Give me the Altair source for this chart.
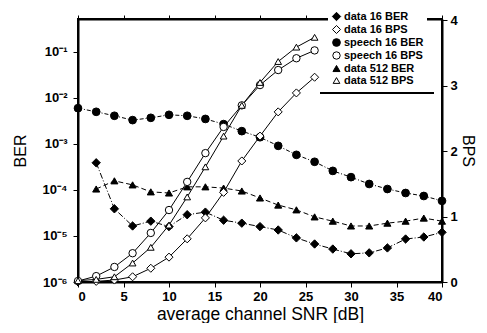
import altair as alt
import pandas as pd

# ---------------- data ----------------
series_order = ["data 16 BER", "data 16 BPS", "speech 16 BER",
                "speech 16 BPS", "data 512 BER", "data 512 BPS"]

snr_speech_ber = list(range(0, 42, 2))
speech16_ber = [6.0e-3, 5.0e-3, 4.1e-3, 3.3e-3, 3.7e-3, 4.3e-3, 4.1e-3, 3.5e-3,
                2.7e-3, 1.9e-3, 1.4e-3, 9.1e-4, 5.8e-4, 4.1e-4, 2.6e-4, 1.9e-4,
                1.35e-4, 1.05e-4, 8.6e-5, 7.4e-5, 5.8e-5]

snr_data_ber = list(range(2, 42, 2))
data16_ber = [3.9e-4, 3.9e-5, 1.65e-5, 2.1e-5, 1.6e-5, 2.9e-5, 3.3e-5, 2.2e-5,
              1.9e-5, 1.6e-5, 1.35e-5, 9.1e-6, 6.7e-6, 5.2e-6, 4.1e-6, 4.3e-6,
              5.5e-6, 8.6e-6, 9.5e-6, 1.2e-5]
data512_ber = [1.05e-4, 1.58e-4, 1.29e-4, 9.1e-5, 8.6e-5, 1.17e-4, 1.17e-4, 1.1e-4,
               9.5e-5, 6.7e-5, 4.7e-5, 3.7e-5, 2.6e-5, 2.1e-5, 1.65e-5, 1.65e-5,
               1.9e-5, 2.1e-5, 2.45e-5, 2.1e-5]

snr_bps = list(range(0, 28, 2))
data16_bps = [0.0, 0.01, 0.03, 0.08, 0.21, 0.38, 0.66, 0.98, 1.37, 1.85, 2.23, 2.60, 2.89, 3.13]
speech16_bps = [0.015, 0.09, 0.23, 0.44, 0.75, 1.10, 1.53, 1.97, 2.37, 2.70, 3.01, 3.24, 3.42, 3.54]
data512_bps = [0.02, 0.04, 0.08, 0.29, 0.53, 0.87, 1.30, 1.76, 2.23, 2.70, 3.05, 3.37, 3.59, 3.74]

x_ticks = [0, 5, 10, 15, 20, 25, 30, 35, 40]
ber_ticks = [1e-6, 1e-5, 1e-4, 1e-3, 1e-2, 1e-1]
bps_ticks = [0, 1, 2, 3, 4]

# ---------------- tables ----------------
def rows(xs, ys, name):
    return [{"snr": a, "v": b, "series": name} for a, b in zip(xs, ys)]

ber_df = pd.DataFrame(rows(snr_data_ber, data16_ber, "data 16 BER")
                      + rows(snr_speech_ber, speech16_ber, "speech 16 BER")
                      + rows(snr_data_ber, data512_ber, "data 512 BER"))
bps_df = pd.DataFrame(rows(snr_bps, data16_bps, "data 16 BPS")
                      + rows(snr_bps, speech16_bps, "speech 16 BPS")
                      + rows(snr_bps, data512_bps, "data 512 BPS"))

FONT = "Liberation Sans"

legend = alt.Legend(title=None, orient="none", legendX=250, legendY=-11,
                    fillColor="white", padding=3, labelFont=FONT, labelFontSize=11,
                    labelFontWeight="bold", labelColor="black", rowPadding=0,
                    symbolStrokeColor="black", symbolStrokeWidth=1, labelOffset=2)

shape_enc = alt.Shape("series:N", legend=legend,
                      scale=alt.Scale(domain=series_order,
                                      range=["diamond", "diamond", "circle", "circle",
                                             "triangle-up", "triangle-up"]))
fill_enc = alt.Fill("series:N", legend=legend,
                    scale=alt.Scale(domain=series_order,
                                    range=["black", "white", "black", "white", "black", "white"]))
stroke_enc = alt.Stroke("series:N", legend=legend,
                        scale=alt.Scale(domain=series_order, range=["black"] * 6))
size_enc = alt.Size("series:N", legend=legend,
                    scale=alt.Scale(domain=series_order, range=[70, 45, 32, 28, 28, 30]))

x_bottom = alt.X("snr:Q", scale=alt.Scale(domain=[0, 40], nice=False),
                 axis=alt.Axis(orient="bottom", values=x_ticks, title="average channel SNR [dB]",
                               titleFontSize=17.5, titleFont=FONT, titleFontWeight="normal",
                               titlePadding=2, labelFontSize=13, labelFont=FONT,
                               labelFontWeight="bold", tickSize=5, labelPadding=3,
                               domainWidth=2, domainColor="black", tickColor="black",
                               labelColor="black", titleColor="black", grid=False))
x_top = alt.X("snr:Q", scale=alt.Scale(domain=[0, 40], nice=False),
              axis=alt.Axis(orient="top", values=x_ticks, labels=False, title=None,
                            tickSize=4, domainWidth=2, domainColor="black",
                            tickColor="black", grid=False))

y_ber = alt.Y("v:Q", scale=alt.Scale(type="log", domain=[1e-6, 0.52], nice=False),
              axis=alt.Axis(orient="left", values=ber_ticks, title="BER",
                            labelExpr=("datum.value < 2e-6 ? '10⁻⁶' : datum.value < 2e-5 ? '10⁻⁵' : "
                                       "datum.value < 2e-4 ? '10⁻⁴' : datum.value < 2e-3 ? '10⁻³' : "
                                       "datum.value < 2e-2 ? '10⁻²' : '10⁻¹'"),
                            titleFontSize=16, titleFont=FONT, titleFontWeight="normal",
                            titlePadding=14, labelFontSize=13, labelFont=FONT,
                            labelFontWeight="bold", tickSize=5, labelPadding=6,
                            domainWidth=2, domainColor="black", tickColor="black",
                            labelColor="black", titleColor="black", grid=False))
y_bps = alt.Y("v:Q", scale=alt.Scale(domain=[0, 4.02], nice=False),
              axis=alt.Axis(orient="right", values=bps_ticks, title="BPS",
                            titleFontSize=16, titleFont=FONT, titleFontWeight="normal",
                            titlePadding=2, labelFontSize=13, labelFont=FONT,
                            labelFontWeight="bold", tickSize=5, labelPadding=3,
                            domainWidth=2, domainColor="black", tickColor="black",
                            labelColor="black", titleColor="black", grid=False))

ber_lines = alt.Chart(ber_df).mark_line(color="black", strokeWidth=1).encode(
    x=x_bottom, y=y_ber, detail="series:N",
    strokeDash=alt.StrokeDash("series:N", legend=None,
                              scale=alt.Scale(domain=["data 16 BER", "speech 16 BER", "data 512 BER"],
                                              range=[[6, 2, 1, 2], [4, 2, 1, 2], [5, 3]])))
ber_points = alt.Chart(ber_df).mark_point(strokeWidth=1, opacity=1, fillOpacity=1).encode(
    x=x_bottom, y=y_ber, shape=shape_enc, fill=fill_enc, stroke=stroke_enc, size=size_enc)

underline = alt.Chart(ber_df).mark_rule(color="black", strokeWidth=1).encode(
    x=alt.value(242), x2=alt.value(356), y=alt.value(74))

bps_lines = alt.Chart(bps_df).mark_line(color="black", strokeWidth=1).encode(
    x=x_top, y=y_bps, detail="series:N")
bps_points = alt.Chart(bps_df).mark_point(strokeWidth=1, opacity=1, fillOpacity=1).encode(
    x=x_top, y=y_bps, shape=shape_enc, fill=fill_enc, stroke=stroke_enc, size=size_enc)

ber_layer = alt.layer(ber_lines, ber_points)
bps_layer = alt.layer(bps_lines, bps_points)

chart = alt.layer(ber_layer, bps_layer, underline).resolve_scale(
    y="independent").resolve_axis(x="independent").properties(
    width=364, height=263,
    autosize=alt.AutoSizeParams(type="none"),
    padding={"left": 70, "top": 11, "right": 37, "bottom": 41},
    background="white",
).configure_view(stroke="black", strokeWidth=2)

chart.save("out.html", embed_options={"renderer": "svg", "actions": False})
